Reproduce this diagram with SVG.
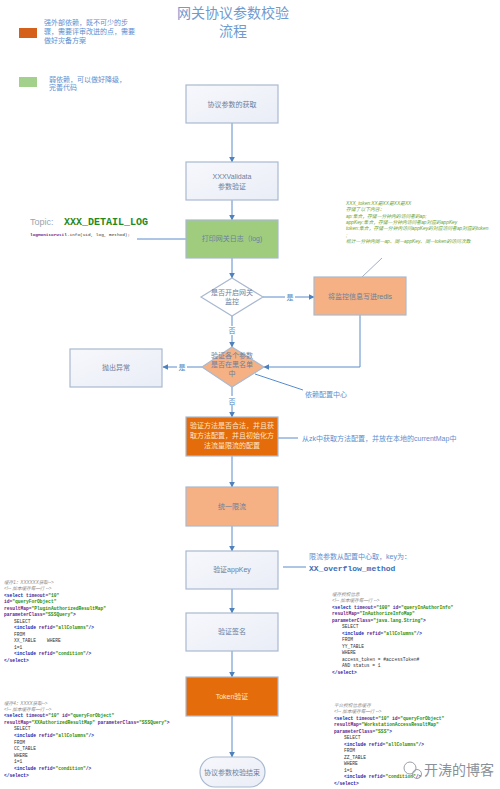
<svg xmlns="http://www.w3.org/2000/svg" width="500" height="789" viewBox="0 0 500 789">
<defs>
<linearGradient id="lg" x1="0" y1="0" x2="1" y2="1">
<stop offset="0" stop-color="#f7f8fc"/><stop offset="1" stop-color="#e9edf6"/>
</linearGradient>
<marker id="ar" viewBox="0 0 10 10" refX="9" refY="5" markerWidth="6" markerHeight="6" orient="auto">
<path d="M0,0 L10,5 L0,10 z" fill="#4f81bd"/>
</marker>
<style>
.cn{font-family:"Liberation Sans","Noto Sans CJK SC",sans-serif}
.box{stroke:#a9b9d0;stroke-width:1.2}
.wb{fill:url(#lg)}
.gb{fill:#9fcd7d}
.lo{fill:#f5b183}
.do{fill:#e46c0a}
.bt{font-size:7px;fill:#6b7fa0;text-anchor:middle}
.ln{stroke:#5a8ccc;stroke-width:1;fill:none}
.lab{font-size:7px;fill:#4f81bd;text-anchor:middle}
.note{font-size:7px;fill:#5b8fd0}
.code{font-family:"Liberation Mono",monospace;font-size:4.6px;font-weight:bold;fill:#333}
.cm{fill:#888;font-weight:normal;font-style:italic;font-family:"Liberation Sans","Noto Sans CJK SC",sans-serif}
.tg{fill:#1c1ca8}
.at{fill:#5b1f8a}
.vl{fill:#2a8c00}
.ann{font-size:4.8px;fill:#6aa12e;font-style:italic}
</style>
</defs>
<rect width="500" height="789" fill="#ffffff"/>

<g id="title" class="cn">
<text x="233" y="18" font-size="14" fill="#6f9bd0" text-anchor="middle">网关协议参数校验</text>
<text x="233" y="36" font-size="14" fill="#6f9bd0" text-anchor="middle">流程</text>
</g>

<g id="legend" class="cn">
<rect x="19" y="28" width="18" height="10" fill="#d4601a"/>
<text class="note" x="44" y="25">强外部依赖，既不可少的步</text>
<text class="note" x="44" y="34">骤，需要评审改进的点，需要</text>
<text class="note" x="44" y="43">做好灾备方案</text>
<rect x="19" y="77" width="18" height="10" fill="#a3d08a"/>
<text class="note" x="49" y="82">弱依赖，可以做好降级，</text>
<text class="note" x="49" y="90">完善代码</text>
</g>

<g id="connectors">
<line class="ln" x1="232" y1="123" x2="232" y2="162" marker-end="url(#ar)"/>
<line class="ln" x1="232" y1="200" x2="232" y2="220" marker-end="url(#ar)"/>
<line class="ln" x1="232" y1="258" x2="232" y2="278" marker-end="url(#ar)"/>
<line class="ln" x1="137" y1="239" x2="186" y2="239"/>
<line class="ln" x1="263" y1="297" x2="314" y2="297" marker-end="url(#ar)"/>
<line class="ln" x1="232" y1="316" x2="232" y2="347" marker-end="url(#ar)"/>
<polyline class="ln" points="360,315 360,367 264,367" marker-end="url(#ar)"/>
<line class="ln" x1="202" y1="367" x2="163" y2="367" marker-end="url(#ar)"/>
<line class="ln" x1="232" y1="387" x2="232" y2="417" marker-end="url(#ar)"/>
<line class="ln" x1="255" y1="374" x2="303" y2="390" stroke="#8fa6c6"/>
<line x1="382" y1="258" x2="362" y2="277" stroke="#8a9ab0" stroke-width="0.8"/>
<line class="ln" x1="278" y1="438" x2="298" y2="438"/>
<line class="ln" x1="232" y1="456" x2="232" y2="487" marker-end="url(#ar)"/>
<line class="ln" x1="232" y1="526" x2="232" y2="551" marker-end="url(#ar)"/>
<line class="ln" x1="283" y1="567" x2="306" y2="567"/>
<line class="ln" x1="232" y1="589" x2="232" y2="613" marker-end="url(#ar)"/>
<line class="ln" x1="232" y1="651" x2="232" y2="677" marker-end="url(#ar)"/>
<line class="ln" x1="232" y1="716" x2="232" y2="757" marker-end="url(#ar)"/>
<g class="cn">
<rect x="285" y="292" width="10" height="9" fill="#fff"/>
<text class="lab" x="290" y="300">是</text>
<rect x="227" y="326" width="10" height="9" fill="#fff"/>
<text class="lab" x="232" y="333">否</text>
<rect x="177" y="362" width="10" height="9" fill="#fff"/>
<text class="lab" x="182" y="370">是</text>
<rect x="227" y="396" width="10" height="9" fill="#fff"/>
<text class="lab" x="232" y="404">否</text>
</g>
</g>

<g id="n1" class="cn"><rect class="box wb" x="186" y="85" width="92" height="38"/><text class="bt" x="232" y="107">协议参数的获取</text></g>
<g id="n2" class="cn"><rect class="box wb" x="186" y="162" width="92" height="38"/><text class="bt" x="232" y="179">XXXValidata</text><text class="bt" x="232" y="189">参数验证</text></g>
<g id="n3" class="cn"><rect class="box gb" x="186" y="220" width="92" height="38"/><text class="bt" x="232" y="241">打印网关日志（log)</text></g>

<g id="topic">
<text x="30" y="225" font-family="Liberation Sans,sans-serif" font-size="9" fill="#9aa4b0">Topic:</text>
<text x="64" y="225" font-family="Liberation Mono,monospace" font-size="10" font-weight="bold" fill="#1f8a1f">XXX_DETAIL_LOG</text>
<text x="30" y="236" font-family="Liberation Mono,monospace" font-size="4.4"><tspan fill="#6a1b8a" font-weight="bold">logMonitorUtil</tspan><tspan fill="#333">.info(uid, log, method);</tspan></text>
</g>

<g id="annotation" class="cn">
<text class="ann" x="346" y="205">XXX_token:XX是XX是XX是XX</text>
<text class="ann" x="346" y="211">存储了以下内容：</text>
<text class="ann" x="346" y="218">ap:集合，存储一分钟内的访问者的ap;</text>
<text class="ann" x="346" y="224">appKey:集合，存储一分钟内访问者ap对应的appKey</text>
<text class="ann" x="346" y="230">token:集合，存储一分钟内访问appKey的对应访问者ap对应的token</text>
<text class="ann" x="346" y="237">;</text>
<text class="ann" x="346" y="243">统计一分钟内同一ap、同一appKey、同一token的访问次数</text>
</g>

<g id="d1" class="cn"><polygon class="box" fill="#ffffff" points="232,278 263,297 232,316 201,297"/><text class="bt" x="232" y="295">是否开启网关</text><text class="bt" x="232" y="304">监控</text></g>
<g id="n4" class="cn"><rect class="box lo" x="314" y="277" width="92" height="38" stroke="#9a9a9a"/><text class="bt" x="360" y="299">将监控信息写进redis</text></g>
<g id="d2" class="cn"><polygon class="box lo" points="232,347 264,367 232,387 202,367"/><text class="bt" x="232" y="358">验证各个参数</text><text class="bt" x="232" y="367">是否在黑名单</text><text class="bt" x="232" y="376">中</text></g>
<g id="n5" class="cn"><rect class="box wb" x="70" y="349" width="92" height="38"/><text class="bt" x="116" y="370">抛出异常</text></g>
<g id="cfg" class="cn"><text class="note" x="305" y="397">依赖配置中心</text></g>
<g id="n6" class="cn"><rect class="box do" x="186" y="417" width="92" height="39"/>
<text class="bt" x="232" y="428" fill="#fde6cc" style="fill:#fde6cc">验证方法是否合法，并且获</text>
<text class="bt" x="232" y="438" style="fill:#fde6cc">取方法配置，并且初始化方</text>
<text class="bt" x="232" y="448" style="fill:#fde6cc">法流量限流的配置</text></g>
<g id="zk" class="cn"><text class="note" x="302" y="441">从zk中获取方法配置，并放在本地的currentMap中</text></g>
<g id="n7" class="cn"><rect class="box lo" x="186" y="487" width="92" height="39"/><text class="bt" x="232" y="509">统一限流</text></g>
<g id="n8" class="cn"><rect class="box wb" x="186" y="551" width="92" height="38"/><text class="bt" x="232" y="572">验证appKey</text></g>
<g id="flow" class="cn"><text class="note" x="309" y="559">限流参数从配置中心取，key为：</text>
<text x="309" y="571" font-family="Liberation Mono,monospace" font-size="8" font-weight="bold" fill="#3a6fb8">XX_overflow_method</text></g>
<g id="n9" class="cn"><rect class="box wb" x="186" y="613" width="92" height="38"/><text class="bt" x="232" y="634">验证签名</text></g>
<g id="n10" class="cn"><rect class="box do" x="186" y="677" width="92" height="39"/><text class="bt" x="232" y="699" style="fill:#fde6cc">Token验证</text></g>
<g id="n11" class="cn"><rect class="box wb" x="200" y="757" width="65" height="30" rx="15"/><text class="bt" x="232" y="775">协议参数校验结束</text></g>

<g id="sql1" class="code">
<text x="4" y="584" class="cm">缓存1：XXXXXX获取--&gt;</text>
<text x="4" y="590" class="cm">&lt;!-- 加本缓存每一行 --&gt;</text>
<text x="4" y="597"><tspan class="tg">&lt;select</tspan> <tspan class="at">timeout=</tspan><tspan class="vl">"10"</tspan></text>
<text x="4" y="603"><tspan class="at">id=</tspan><tspan class="vl">"queryForObject"</tspan></text>
<text x="4" y="610"><tspan class="at">resultMap=</tspan><tspan class="vl">"PluginAuthorizedResultMap"</tspan></text>
<text x="4" y="616"><tspan class="at">parameterClass=</tspan><tspan class="vl">"SSSQuery"</tspan><tspan class="tg">&gt;</tspan></text>
<text x="14" y="623" font-weight="normal">SELECT</text>
<text x="14" y="629"><tspan class="tg">&lt;include</tspan> <tspan class="at">refid=</tspan><tspan class="vl">"allColumns"</tspan><tspan class="tg">/&gt;</tspan></text>
<text x="14" y="636" font-weight="normal">FROM</text>
<text x="14" y="642" font-weight="normal" xml:space="preserve">XX_TABLE    WHERE</text>
<text x="14" y="649" font-weight="normal">1=1</text>
<text x="14" y="655"><tspan class="tg">&lt;include</tspan> <tspan class="at">refid=</tspan><tspan class="vl">"condition"</tspan><tspan class="tg">/&gt;</tspan></text>
<text x="4" y="662" class="tg">&lt;/select&gt;</text>
</g>

<g id="sql2" class="code">
<text x="332" y="596" class="cm">缓存授权信息</text>
<text x="332" y="602" class="cm">&lt;!-- 加本缓存每一行 --&gt;</text>
<text x="332" y="609"><tspan class="tg">&lt;select</tspan> <tspan class="at">timeout=</tspan><tspan class="vl">"100"</tspan> <tspan class="at">id=</tspan><tspan class="vl">"queryInAuthorInfo"</tspan></text>
<text x="332" y="615"><tspan class="at">resultMap=</tspan><tspan class="vl">"InAuthorizeInfoMap"</tspan></text>
<text x="332" y="622"><tspan class="at">parameterClass=</tspan><tspan class="vl">"java.lang.String"</tspan><tspan class="tg">&gt;</tspan></text>
<text x="342" y="628" font-weight="normal">SELECT</text>
<text x="342" y="635"><tspan class="tg">&lt;include</tspan> <tspan class="at">refid=</tspan><tspan class="vl">"allColumns"</tspan><tspan class="tg">/&gt;</tspan></text>
<text x="342" y="641" font-weight="normal">FROM</text>
<text x="342" y="648" font-weight="normal">YY_TABLE</text>
<text x="342" y="654" font-weight="normal">WHERE</text>
<text x="342" y="661" font-weight="normal">access_token = #accessToken#</text>
<text x="342" y="667" font-weight="normal">AND status = 1</text>
<text x="332" y="674" class="tg">&lt;/select&gt;</text>
</g>

<g id="sql3" class="code">
<text x="4" y="705" class="cm">缓存4：XXXX获取--&gt;</text>
<text x="4" y="711" class="cm">&lt;!-- 加本缓存每一行 --&gt;</text>
<text x="4" y="717"><tspan class="tg">&lt;select</tspan> <tspan class="at">timeout=</tspan><tspan class="vl">"10"</tspan> <tspan class="at">id=</tspan><tspan class="vl">"queryForObject"</tspan></text>
<text x="4" y="724"><tspan class="at">resultMap=</tspan><tspan class="vl">"XXAuthorizedResultMap"</tspan> <tspan class="at">parameterClass=</tspan><tspan class="vl">"SSSQuery"</tspan><tspan class="tg">&gt;</tspan></text>
<text x="14" y="730" font-weight="normal">SELECT</text>
<text x="14" y="737"><tspan class="tg">&lt;include</tspan> <tspan class="at">refid=</tspan><tspan class="vl">"allColumns"</tspan><tspan class="tg">/&gt;</tspan></text>
<text x="14" y="744" font-weight="normal">FROM</text>
<text x="14" y="750" font-weight="normal">CC_TABLE</text>
<text x="14" y="757" font-weight="normal">WHERE</text>
<text x="14" y="763" font-weight="normal">1=1</text>
<text x="14" y="770"><tspan class="tg">&lt;include</tspan> <tspan class="at">refid=</tspan><tspan class="vl">"condition"</tspan><tspan class="tg">/&gt;</tspan></text>
<text x="4" y="777" class="tg">&lt;/select&gt;</text>
</g>

<g id="sql4" class="code">
<text x="334" y="707" class="cm">平台授权信息缓存</text>
<text x="334" y="713" class="cm">&lt;!-- 加本缓存每一行 --&gt;</text>
<text x="334" y="720"><tspan class="tg">&lt;select</tspan> <tspan class="at">timeout=</tspan><tspan class="vl">"10"</tspan> <tspan class="at">id=</tspan><tspan class="vl">"queryForObject"</tspan></text>
<text x="334" y="726"><tspan class="at">resultMap=</tspan><tspan class="vl">"WorkstationAccessResultMap"</tspan></text>
<text x="334" y="733"><tspan class="at">parameterClass=</tspan><tspan class="vl">"SSS"</tspan><tspan class="tg">&gt;</tspan></text>
<text x="344" y="739" font-weight="normal">SELECT</text>
<text x="344" y="746"><tspan class="tg">&lt;include</tspan> <tspan class="at">refid=</tspan><tspan class="vl">"allColumns"</tspan><tspan class="tg">/&gt;</tspan></text>
<text x="344" y="752" font-weight="normal">FROM</text>
<text x="344" y="759" font-weight="normal">ZZ_TABLE</text>
<text x="344" y="765" font-weight="normal">WHERE</text>
<text x="344" y="772" font-weight="normal">1=1</text>
<text x="344" y="778"><tspan class="tg">&lt;include</tspan> <tspan class="at">refid=</tspan><tspan class="vl">"condition"</tspan><tspan class="tg">/&gt;</tspan></text>
<text x="334" y="785" class="tg">&lt;/select&gt;</text>
</g>

<g id="watermark" class="cn">
<circle cx="410" cy="768" r="6" fill="none" stroke="#9aa0a8" stroke-width="1"/>
<circle cx="417" cy="774" r="4.5" fill="none" stroke="#9aa0a8" stroke-width="1"/>
<text x="424" y="775" font-size="14" fill="#8a9098">开涛的博客</text>
</g>
</svg>
